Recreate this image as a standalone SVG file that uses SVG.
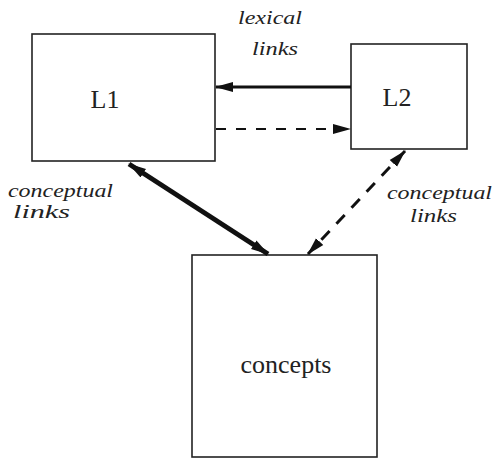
<svg xmlns="http://www.w3.org/2000/svg" width="494" height="458" viewBox="0 0 494 458">
<style>
.box{fill:#fff;stroke:#222;stroke-width:1.6}
.name{font-family:"Liberation Serif",serif;font-size:26px;fill:#222;text-anchor:middle}
.lbl{font-family:"Liberation Serif",serif;font-style:italic;font-size:19px;fill:#222}
.c{fill:none;stroke:#111}
</style>
<defs>
<marker id="ah" viewBox="0 0 18 12" refX="17" refY="6" markerWidth="18" markerHeight="12" markerUnits="userSpaceOnUse" orient="auto-start-reverse">
<path d="M0,1 L18,6 L0,11 Z" fill="#111"/>
</marker>
</defs>
<rect width="494" height="458" fill="#fff"/>
<g id="L1"><rect class="box" x="32" y="34" width="183" height="127"/><text class="name" x="105" y="108">L1</text></g>
<g id="L2"><rect class="box" x="351" y="44" width="116" height="105"/><text class="name" x="397" y="106">L2</text></g>
<g id="concepts"><rect class="box" x="192" y="255" width="185" height="202"/><text class="name" x="286" y="373">concepts</text></g>
<g id="labels">
<text class="lbl" x="238" y="24" textLength="64" lengthAdjust="spacingAndGlyphs">lexical</text>
<text class="lbl" x="252" y="55" textLength="46" lengthAdjust="spacingAndGlyphs">links</text>
<text class="lbl" x="8" y="197" textLength="105" lengthAdjust="spacingAndGlyphs">conceptual</text>
<text class="lbl" x="13" y="218" textLength="57" lengthAdjust="spacingAndGlyphs">links</text>
<text class="lbl" x="387" y="199" textLength="105" lengthAdjust="spacingAndGlyphs">conceptual</text>
<text class="lbl" x="410" y="222" textLength="47" lengthAdjust="spacingAndGlyphs">links</text>
</g>
<g id="connectors">
<line class="c" x1="351" y1="87" x2="216" y2="87" stroke-width="3" marker-end="url(#ah)"/>
<line class="c" x1="216" y1="129" x2="350" y2="129" stroke-width="2" stroke-dasharray="10,10" marker-end="url(#ah)"/>
<line class="c" x1="129" y1="164" x2="268" y2="254" stroke-width="5" marker-start="url(#ah)" marker-end="url(#ah)"/>
<line class="c" x1="405" y1="151" x2="308" y2="254" stroke-width="3" stroke-dasharray="12,10" marker-start="url(#ah)" marker-end="url(#ah)"/>
</g>
</svg>
